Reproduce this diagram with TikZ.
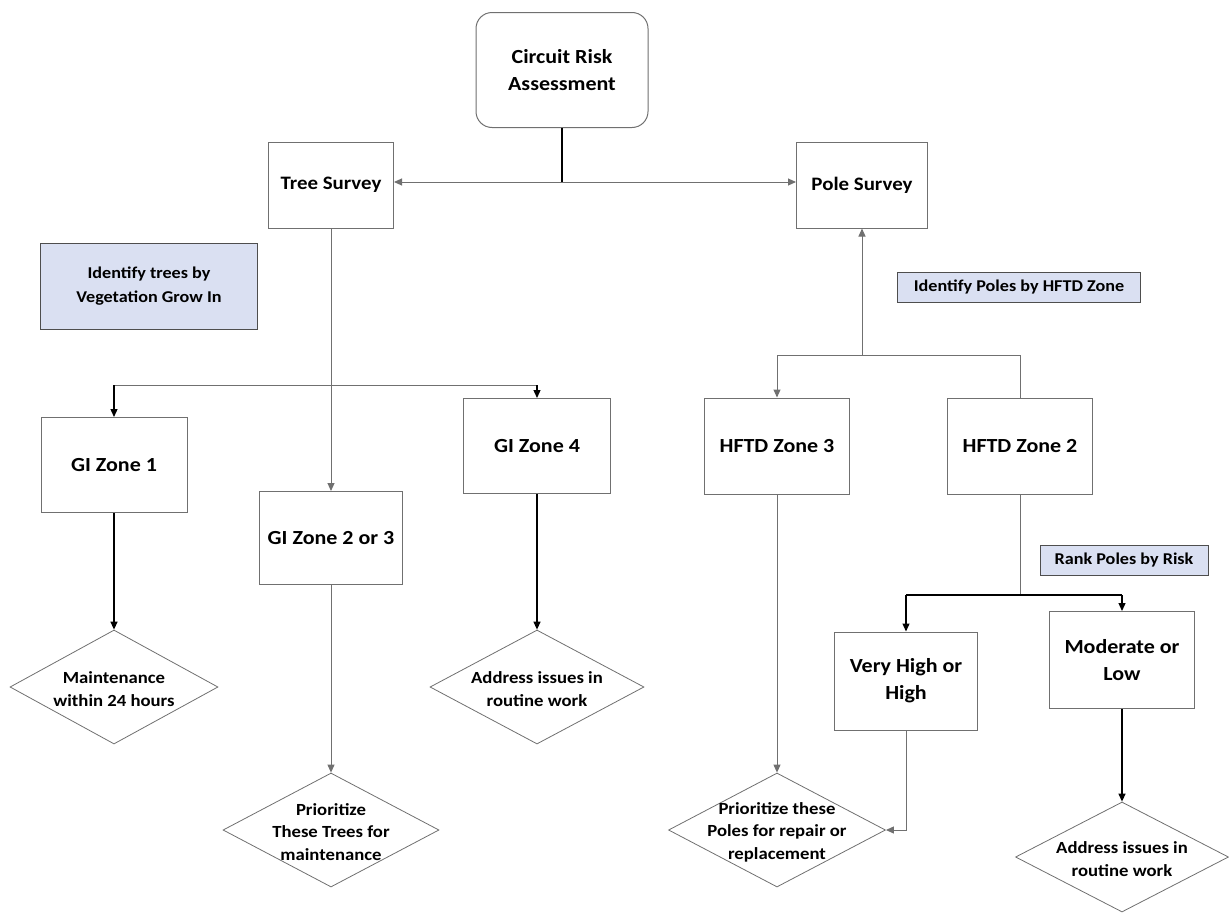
\documentclass[tikz,border=0pt]{standalone}
\usepackage{fontspec}
\setmainfont{Carlito}[FakeStretch=1.1]
\usetikzlibrary{arrows.meta,shapes.geometric}
\definecolor{lblue}{HTML}{DAE0F2}
\definecolor{lgray}{HTML}{707070}
\begin{document}
\begin{tikzpicture}[x=1pt,y=-1pt,
  box/.style={draw=lgray,line width=1pt,fill=white,inner sep=0pt,align=center,font=\fontsize{20}{27}\selectfont\bfseries},
  bluebox/.style={draw=lgray!70!black,line width=1pt,fill=lblue,inner sep=0pt,align=center,font=\fontsize{16.5}{24}\selectfont\bfseries},
  dia/.style={diamond,draw=lgray,line width=0.8pt,fill=white,inner sep=0pt,minimum width=#1},
  dtext/.style={align=center,inner sep=0pt,font=\fontsize{17}{22.5}\selectfont\bfseries},
  tip/.style={-{Triangle[length=8pt,width=7pt]}},
  thin/.style={draw=lgray,line width=1pt},
  thick/.style={draw=black,line width=1.3pt}
]
\useasboundingbox (0,0) rectangle (1229,913);
% top
\node[box,rounded corners=16pt,minimum width=172pt,minimum height=115pt] (cra) at (562,70) {Circuit Risk\\Assessment};
\node[box,minimum width=125pt,minimum height=86pt,font=\fontsize{19}{27}\selectfont\bfseries] (ts) at (331,185) {Tree Survey};
\node[box,minimum width=131pt,minimum height=86pt,font=\fontsize{19}{27}\selectfont\bfseries] (ps) at (862,185) {Pole Survey};
\coordinate (j0) at (562,182);
\draw[thick] (cra.south) -- (j0);
\draw[thin,tip] (j0) -- (ts.east |- j0);
\draw[thin,tip] (j0) -- (ps.west |- j0);
% left side
\node[bluebox,minimum width=217pt,minimum height=86pt] (itv) at (149,286) {Identify trees by\\Vegetation Grow In};
\node[box,minimum width=146pt,minimum height=95pt] (gi1) at (114,465) {GI Zone 1};
\node[box,minimum width=143pt,minimum height=93pt] (gi23) at (331,538) {GI Zone 2 or 3};
\node[box,minimum width=147pt,minimum height=95pt] (gi4) at (537,446) {GI Zone 4};
\draw[thin,tip] (ts.south) -- (gi23.north);
\coordinate (jl) at (114,385);
\coordinate (jr) at (537,385);
\draw[thin] (jl) -- (jr);
\draw[thick,tip] (jl) -- (gi1.north);
\draw[thick,tip] (jr) -- (gi4.north);
\node[dia=208pt,minimum height=114pt] (d1) at (114,687) {};
\node[dtext] (t1) at (114,689) {Maintenance\\within 24 hours};
\node[dia=214pt,minimum height=114pt] (d4) at (537,687) {};
\node[dtext] (t4) at (537,689) {Address issues in\\routine work};
\node[dia=216pt,minimum height=114pt] (d23) at (331,830) {};
\node[dtext] (t23) at (331,832) {Prioritize\\These Trees for\\maintenance};
\draw[thick,tip] (gi1.south) -- (d1.north);
\draw[thick,tip] (gi4.south) -- (d4.north);
\draw[thin,tip] (gi23.south) -- (d23.north);
% right side
\node[bluebox,minimum width=243pt,minimum height=30pt] (ip) at (1019,287) {Identify Poles by HFTD Zone};
\node[box,minimum width=145pt,minimum height=96pt] (h3) at (777,446) {HFTD Zone 3};
\node[box,minimum width=145pt,minimum height=96pt] (h2) at (1020,446) {HFTD Zone 2};
\coordinate (jp) at (862,355);
\draw[thin,tip] (jp) -- (ps.south);
\draw[thin] (h2.north) -- (h2.north |- jp) -- (h3.north |- jp);
\draw[thin,tip] (h3.north |- jp) -- (h3.north);
\node[bluebox,minimum width=168pt,minimum height=30pt] (rp) at (1124,560) {Rank Poles by Risk};
\node[box,minimum width=143pt,minimum height=98pt] (vh) at (906,681) {Very High or\\High};
\node[box,minimum width=145pt,minimum height=97pt] (ml) at (1122,660) {Moderate or\\Low};
\coordinate (jv) at (906,595);
\coordinate (jm) at (1122,595);
\draw[thin] (h2.south) -- (h2.south |- jv);
\draw[thick] (jv) -- (jm);
\draw[thick,tip] (jv) -- (vh.north);
\draw[thick,tip] (jm) -- (ml.north);
\node[dia=217pt,minimum height=114pt] (dp) at (777,830) {};
\node[dtext] (tp) at (777,832) {Prioritize these\\Poles for repair or\\replacement};
\node[dia=213pt,minimum height=110pt] (dm) at (1122,857) {};
\node[dtext] (tm) at (1122,859) {Address issues in\\routine work};
\draw[thin,tip] (h3.south) -- (dp.north);
\draw[thin,tip] (vh.south) -- (vh.south |- dp.east) -- (dp.east);
\draw[thick,tip] (ml.south) -- (dm.north);
\end{tikzpicture}
\end{document}
